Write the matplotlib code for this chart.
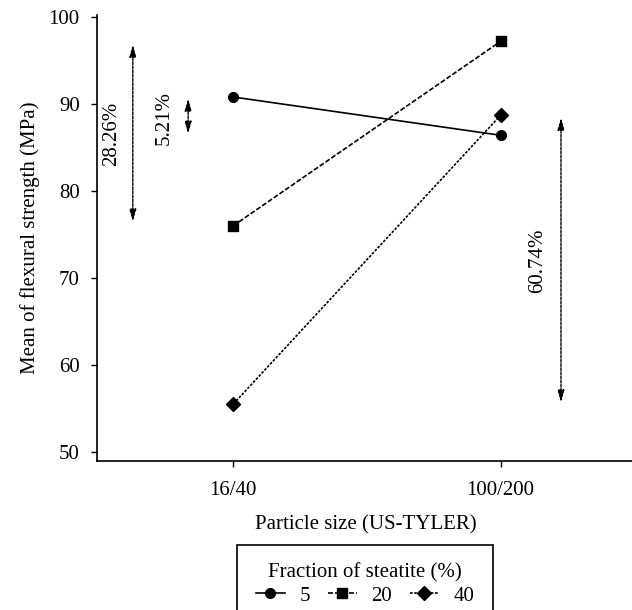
import matplotlib
matplotlib.use("Agg")
import matplotlib.pyplot as plt

plt.rcParams["font.family"] = ["Liberation Serif", "DejaVu Serif"]

# values
particle_sizes = ["16/40", "100/200"]
steatite_fractions = ["5", "20", "40"]
strength_5 = [90.8, 86.4]
strength_20 = [76.0, 97.2]
strength_40 = [55.5, 88.7]

# percentage-difference arrows: (x position, y low, y high, label)
arrow_x = [-0.376, -0.169, 1.226]
arrow_lo = [76.5, 86.6, 55.7]
arrow_hi = [96.8, 90.6, 88.4]
arrow_labels = ["28.26%", "5.21%", "60.74%"]
label_x = [-0.455, -0.259, 1.139]
label_y = [86.6, 88.4, 72.0]

fig = plt.figure(figsize=(6.32, 6.10), dpi=100)
ax = fig.add_axes([0.1535, 0.245, 0.85, 0.73])

x = list(range(len(particle_sizes)))
ax.plot(x, strength_5, color="black", lw=1.2, ls="-", marker="o", ms=7,
        label=steatite_fractions[0])
ax.plot(x, strength_20, color="black", lw=1.2, ls=(0, (3, 1.2)), marker="s", ms=7,
        label=steatite_fractions[1])
ax.plot(x, strength_40, color="black", lw=1.2, ls=(0, (1.6, 0.9)), marker="D", ms=7,
        label=steatite_fractions[2])

for xa, lo, hi, lab, lx, ly in zip(arrow_x, arrow_lo, arrow_hi, arrow_labels, label_x, label_y):
    ax.annotate("", xy=(xa, hi), xytext=(xa, lo),
                arrowprops=dict(arrowstyle="<|-|>,head_length=0.7,head_width=0.2",
                                color="black", lw=1.0, ls=(0, (2, 1)),
                                shrinkA=0, shrinkB=0))
    ax.text(lx, ly, lab, rotation=90, ha="center", va="center", fontsize=15)

ax.set_xlim(-0.51, 1.5)
ax.set_ylim(49.0, 100.2)
ax.set_xticks(x)
ax.set_xticklabels(particle_sizes)
ax.set_yticks([50, 60, 70, 80, 90, 100])
ax.tick_params(labelsize=15, length=4.5, width=1.0, direction="out")
ax.tick_params(axis="x", pad=10)
ax.tick_params(axis="y", pad=8)
ax.spines["top"].set_visible(False)
ax.spines["right"].set_visible(False)
ax.spines["left"].set_linewidth(1.2)
ax.spines["bottom"].set_linewidth(1.2)

ax.set_xlabel("Particle size (US-TYLER)", fontsize=15, labelpad=11)
ax.set_ylabel("Mean of flexural strength (MPa)", fontsize=15, labelpad=6)

leg = fig.legend(loc="upper center", bbox_to_anchor=(0.5775, 0.107), ncol=3,
                 title="Fraction of steatite (%)", fontsize=15, title_fontsize=15,
                 handlelength=1.4, columnspacing=0.85, handletextpad=0.7,
                 labelspacing=0.15, fancybox=False, edgecolor="black", framealpha=1,
                 borderpad=0.9, borderaxespad=0)
leg.get_frame().set_linewidth(1.2)

fig.savefig("out.png", dpi=100)
